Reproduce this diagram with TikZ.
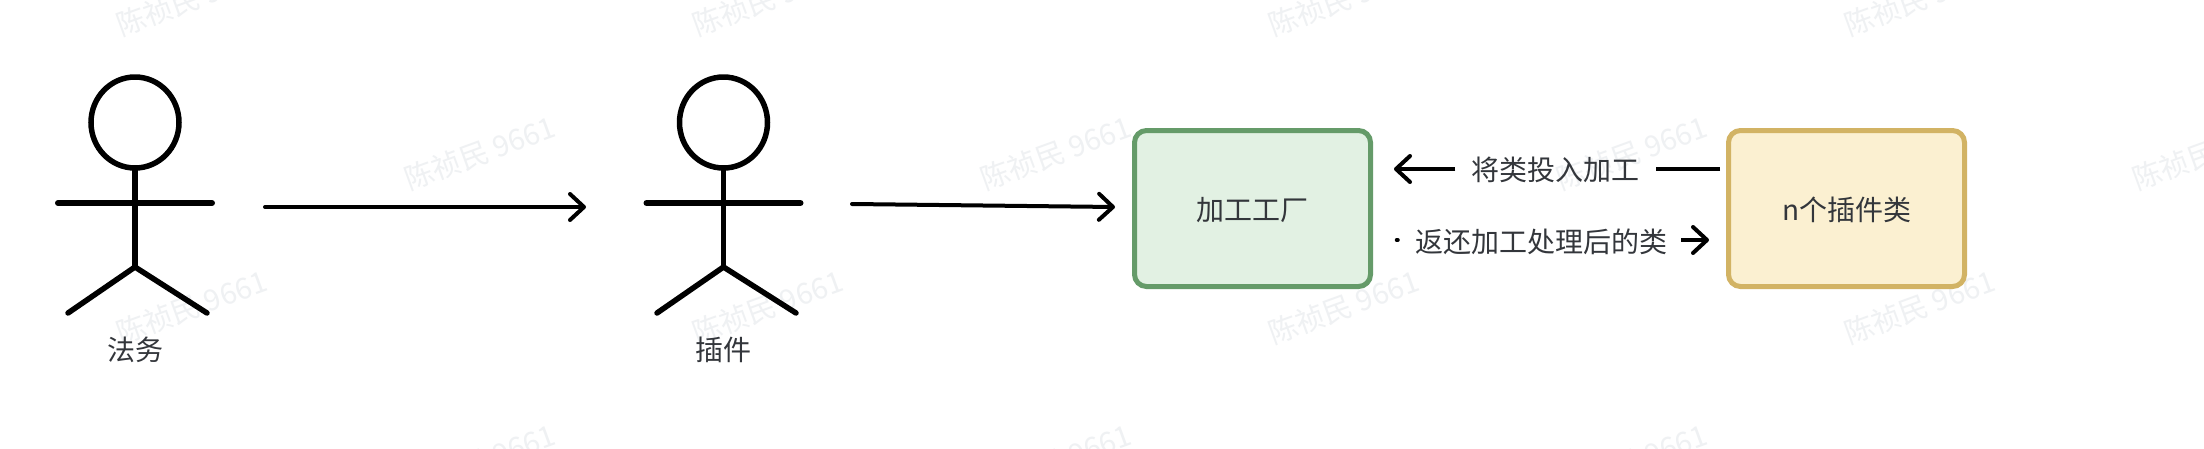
\documentclass[tikz,border=0pt]{standalone}
\usepackage{fontspec}
\setmainfont{Noto Sans CJK SC}
\usetikzlibrary{arrows.meta,shapes.geometric}
\definecolor{txt}{HTML}{33363B}
\definecolor{wm}{HTML}{EFF1F3}
\definecolor{gfill}{HTML}{E2F1E3}
\definecolor{gline}{HTML}{659B69}
\definecolor{yfill}{HTML}{FBF0D1}
\definecolor{yline}{HTML}{D2B364}
\tikzset{
  x=1pt,y=-1pt,
  label text/.style={text=txt,font=\fontsize{28pt}{32pt}\selectfont,inner sep=0pt},
  watermark/.style={text=wm,font=\fontsize{29pt}{32pt}\selectfont,rotate=20,inner sep=0pt},
  head/.style={draw=black,ellipse,line width=5.5pt,minimum width=88pt,minimum height=91pt,inner sep=0pt,outer sep=0pt},
  limb/.style={draw=black,line width=5.5pt,line cap=round,line join=round},
  arm/.style={limb,line width=6pt},
  conn/.style={draw=black,line width=4pt,line cap=round,-{Straight Barb[length=14pt,width=26pt,line width=4pt,round]}},
  plainconn/.style={draw=black,line width=4pt,line cap=round},
  box/.style={rectangle,rounded corners=12pt,line width=5pt,outer sep=0pt,inner sep=0pt,text=txt,font=\fontsize{28pt}{32pt}\selectfont,minimum width=236pt,minimum height=156pt},
}
\begin{document}
\begin{tikzpicture}
\useasboundingbox (0,0) rectangle (2204,448);
\fill[white] (0,0) rectangle (2204,448);
% watermarks
\foreach \wx in {191.5,767.5,1343.5,1919.5}{
  \node[watermark] at (\wx,-1) {陈祯民 9661};
  \node[watermark] at (\wx,307) {陈祯民 9661};
}
\foreach \wx in {480,1056,1632,2208}{
  \node[watermark] at (\wx,153) {陈祯民 9661};
  \node[watermark] at (\wx,461) {陈祯民 9661};
}
% actors
\node[head] (h1) at (135,122.5) {};
\coordinate (hip1) at (135,267);
\coordinate (armL1) at (58,203);
\coordinate (armR1) at (212,203);
\coordinate (legL1) at (68,313);
\coordinate (legR1) at (207,313);
\draw[limb] (h1.south) -- (hip1);
\draw[arm] (armL1) -- (armR1);
\draw[limb] (legL1) -- (hip1) -- (legR1);
\node[label text] (l1) at (135,350) {法务};

\node[head] (h2) at (723.5,122.5) {};
\coordinate (hip2) at (723.5,267);
\coordinate (armL2) at (646.5,203);
\coordinate (armR2) at (800.5,203);
\coordinate (legL2) at (657,313);
\coordinate (legR2) at (796,313);
\draw[limb] (h2.south) -- (hip2);
\draw[arm] (armL2) -- (armR2);
\draw[limb] (legL2) -- (hip2) -- (legR2);
\node[label text] (l2) at (723,350) {插件};

% boxes
\node[box,draw=gline,fill=gfill] (factory) at (1252.5,208.5) {};
\node[box,draw=yline,fill=yfill] (plugins) at (1846.5,208.5) {};
\node[label text] (ft) at (1252,210) {加工工厂};
\node[label text] (pt) at (1847,210) {n个插件类};

% arrows
\coordinate (a1s) at (265,207);
\coordinate (a1e) at (586,207);
\draw[conn] (a1s) -- (a1e);
\coordinate (a2s) at (852,204);
\coordinate (a2e) at (1115,207);
\draw[conn] (a2s) -- (a2e);

% labelled connectors
\node[label text,inner xsep=16pt,inner ysep=0pt] (t1) at (1555.5,170) {将类投入加工};
\coordinate (t1s) at (1720,169);
\coordinate (t1e) at (1394,169);
\draw[plainconn,line cap=butt] (t1s) -- (t1s-|t1.east);
\draw[conn,line cap=butt] (t1s-|t1.west) -- (t1e);

\node[label text,inner xsep=14pt,inner ysep=0pt] (t2) at (1541,242) {返还加工处理后的类};
\coordinate (t2s) at (1396.5,240);
\coordinate (t2d) at (1398,240);
\coordinate (t2e) at (1709,240);
\draw[draw=black,line width=3.5pt,line cap=round] (t2s) -- (t2d);
\draw[conn,line cap=butt] (t2s-|t2.east) -- (t2e);
\end{tikzpicture}
\end{document}
